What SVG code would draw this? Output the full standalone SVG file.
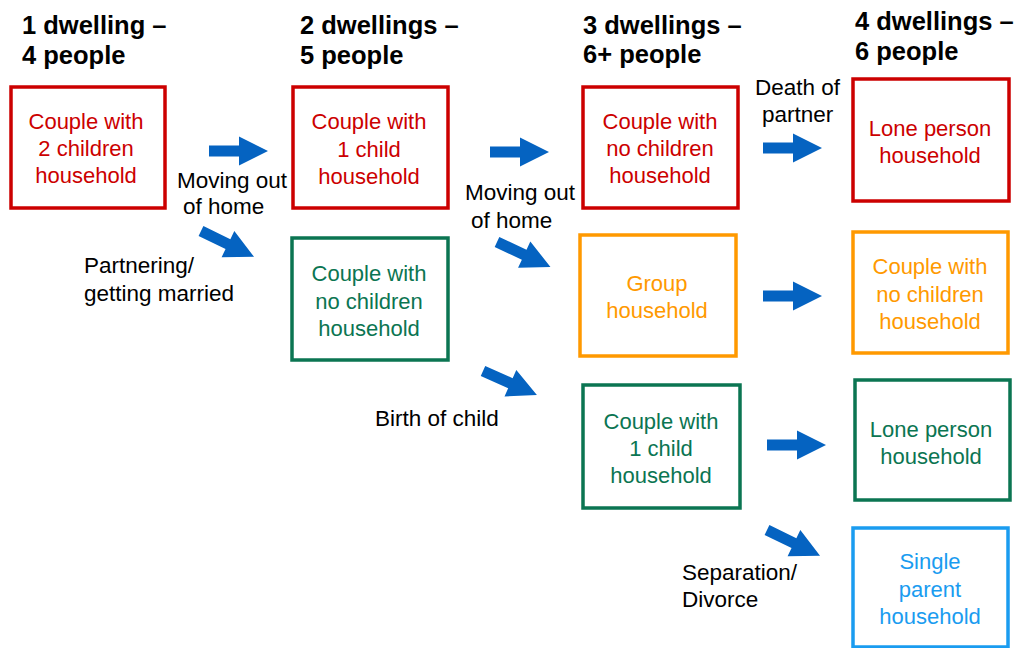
<svg xmlns="http://www.w3.org/2000/svg" xmlns:xlink="http://www.w3.org/1999/xlink" width="1017" height="648" viewBox="0 0 1017 648">
<style>
text{font-family:"Liberation Sans",Arial,sans-serif}
.h{font-size:25.5px;font-weight:bold;fill:#000}
.l{font-size:22.5px;fill:#000}
.t{font-size:22px;text-anchor:middle}
.box{fill:#fff;stroke-width:3.5}
.red rect{stroke:#CC0000}.red text{fill:#CC0000}
.grn rect{stroke:#0B7552}.grn text{fill:#0B7552}
.org rect{stroke:#FF9900}.org text{fill:#FF9900}
.blu rect{stroke:#1A9CF0}.blu text{fill:#1A9CF0}
.arr{fill:#0563C1}
</style>
<defs>
<path id="a" d="M0,-5.5H30V-14.5L59,0L30,14.5V5.5H0Z"/>
</defs>
<g id="headings">
<text class="h" x="22" y="34">1 dwelling –</text>
<text class="h" x="22" y="64">4 people</text>
<text class="h" x="300" y="34">2 dwellings –</text>
<text class="h" x="300" y="64">5 people</text>
<text class="h" x="583" y="34">3 dwellings –</text>
<text class="h" x="583" y="63">6+ people</text>
<text class="h" x="855" y="30">4 dwellings –</text>
<text class="h" x="855" y="60">6 people</text>
</g>
<g id="n1" class="red"><rect class="box" x="11" y="87" width="154" height="121"/>
<text class="t" x="86" y="129">Couple with</text><text class="t" x="86" y="156">2 children</text><text class="t" x="86" y="183">household</text></g>
<g id="n2" class="red"><rect class="box" x="293" y="87" width="155" height="121"/>
<text class="t" x="369" y="129">Couple with</text><text class="t" x="369" y="157">1 child</text><text class="t" x="369" y="184">household</text></g>
<g id="n3" class="grn"><rect class="box" x="292" y="238" width="156" height="122"/>
<text class="t" x="369" y="281">Couple with</text><text class="t" x="369" y="309">no children</text><text class="t" x="369" y="336">household</text></g>
<g id="n4" class="red"><rect class="box" x="583" y="87" width="155" height="121"/>
<text class="t" x="660" y="129">Couple with</text><text class="t" x="660" y="156">no children</text><text class="t" x="660" y="183">household</text></g>
<g id="n5" class="org"><rect class="box" x="580" y="235" width="156" height="121"/>
<text class="t" x="657" y="291">Group</text><text class="t" x="657" y="318">household</text></g>
<g id="n6" class="grn"><rect class="box" x="583" y="385" width="157" height="123"/>
<text class="t" x="661" y="429">Couple with</text><text class="t" x="661" y="456">1 child</text><text class="t" x="661" y="483">household</text></g>
<g id="n7" class="red"><rect class="box" x="853" y="79" width="156" height="122"/>
<text class="t" x="930" y="136">Lone person</text><text class="t" x="930" y="163">household</text></g>
<g id="n8" class="org"><rect class="box" x="853" y="232" width="155" height="121"/>
<text class="t" x="930" y="274">Couple with</text><text class="t" x="930" y="302">no children</text><text class="t" x="930" y="329">household</text></g>
<g id="n9" class="grn"><rect class="box" x="855" y="380" width="155" height="120"/>
<text class="t" x="931" y="437">Lone person</text><text class="t" x="931" y="464">household</text></g>
<g id="n10" class="blu"><rect class="box" x="853" y="528" width="155" height="119"/>
<text class="t" x="930" y="569">Single</text><text class="t" x="930" y="597">parent</text><text class="t" x="930" y="624">household</text></g>
<g id="connectors" class="arr">
<use xlink:href="#a" href="#a" transform="translate(209,151)"/>
<use xlink:href="#a" href="#a" transform="translate(201,231) rotate(26)"/>
<use xlink:href="#a" href="#a" transform="translate(490,152)"/>
<use xlink:href="#a" href="#a" transform="translate(497,242) rotate(25)"/>
<use xlink:href="#a" href="#a" transform="translate(483,371) rotate(24)"/>
<use xlink:href="#a" href="#a" transform="translate(763,148)"/>
<use xlink:href="#a" href="#a" transform="translate(763,296)"/>
<use xlink:href="#a" href="#a" transform="translate(767,445)"/>
<use xlink:href="#a" href="#a" transform="translate(767,530) rotate(26)"/>
</g>
<g id="labels">
<text class="l" x="177" y="188">Moving out</text>
<text class="l" x="183" y="214">of home</text>
<text class="l" x="84" y="273">Partnering/</text>
<text class="l" x="84" y="301">getting married</text>
<text class="l" x="465" y="200">Moving out</text>
<text class="l" x="471" y="228">of home</text>
<text class="l" x="375" y="426">Birth of child</text>
<text class="l" x="755" y="95">Death of</text>
<text class="l" x="762" y="122">partner</text>
<text class="l" x="682" y="580">Separation/</text>
<text class="l" x="682" y="607">Divorce</text>
</g>
</svg>
